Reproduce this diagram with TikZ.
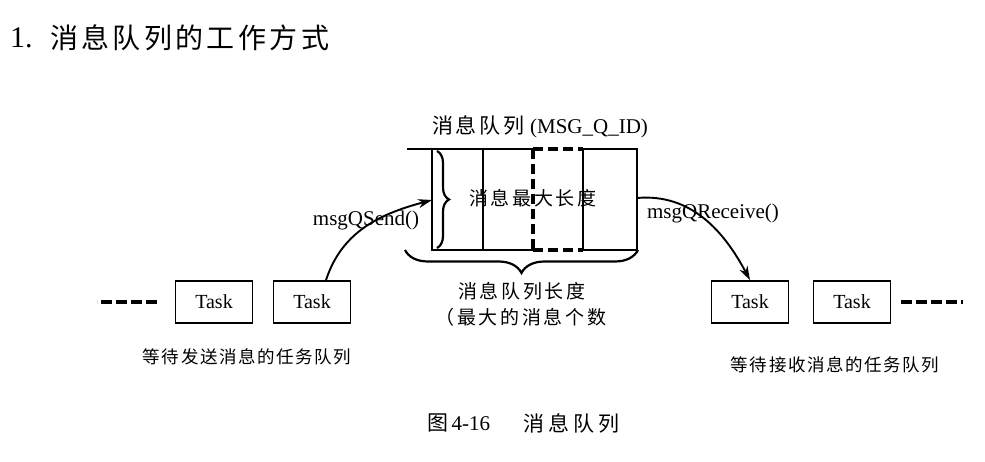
\documentclass[tikz,border=0pt]{standalone}
\usepackage{fontspec}
\setmainfont{Liberation Serif}
\newfontfamily\cjk{Noto Sans CJK SC}
\newfontfamily\cjksp[LetterSpace=14]{Noto Sans CJK SC}
\newfontfamily\cjkwait[LetterSpace=9]{Noto Sans CJK SC}
\newfontfamily\cjkcap[LetterSpace=20]{Noto Sans CJK SC}
\newfontfamily\cjktitle[LetterSpace=12]{Noto Sans CJK SC}
\usetikzlibrary{arrows.meta,decorations.pathreplacing}
\begin{document}
\begin{tikzpicture}[x=1pt,y=-1pt,
  task/.style={draw,line width=1.7pt,minimum width=77pt,minimum height=42pt,inner sep=0pt,font=\fontsize{20}{22}\selectfont},
  qline/.style={line width=2.2pt},
  qdash/.style={line width=3.2pt,dash pattern=on 10pt off 5pt},
  tail/.style={line width=3.2pt,dash pattern=on 11pt off 4pt},
  conn/.style={line width=1.9pt,-{Stealth[length=14pt,width=9pt]}},
  lbl/.style={font=\fontsize{21}{24}\selectfont,inner sep=0pt},
  zh/.style={font=\fontsize{19}{22}\selectfont\cjksp,inner sep=0pt},
  zhwait/.style={font=\fontsize{17.5}{22}\selectfont\cjkwait,inner sep=0pt},
]
\useasboundingbox (0,0) rectangle (985,462);

% title
\node[anchor=west,inner sep=0pt,font=\fontsize{30}{34}\selectfont] (title) at (10,38) {1.};
\node[anchor=west,inner sep=0pt,font=\fontsize{28}{32}\selectfont\cjktitle] (titlezh) at (50,38) {消息队列的工作方式};

% queue
\node[lbl] (qname) at (540,127) {{\cjksp 消息队列} (MSG\_Q\_ID)};
\draw[qline] (407,149) -- (533,149);
\draw[qline] (583,149) -- (637,149) -- (637,250) -- (583,250);
\draw[qline] (432,149) -- (432,250) -- (533,250);
\draw[qline] (483,149) -- (483,250);
\draw[qline] (583,149) -- (583,250);
\draw[qdash] (533,149) -- (583,149);
\draw[qdash] (533,250) -- (583,250);
\draw[qdash] (533,149) -- (533,250);
\draw[qline,decorate,decoration={brace,amplitude=12pt}] (437,151) -- (437,248);
\node[zh] (qmax) at (533,198) {消息最大长度};
\draw[qline,decorate,decoration={brace,amplitude=23pt}] (638,250) -- (405,250);
\node[zh] (qlen) at (522,291) {消息队列长度};
\node[zh] (qcnt) at (521,317) {（最大的消息个数};
\coordinate (qin) at (432,200);
\coordinate (qout) at (637,198);

% tasks
\node[task] (t1) at (214,302) {Task};
\node[task] (t2) at (312,302) {Task};
\node[task] (t3) at (750,302) {Task};
\node[task] (t4) at (852,302) {Task};
\draw[tail] ([xshift=-18pt]t1.west) -- ++(-60,0);
\draw[tail] ([xshift=10pt]t4.east) -- ++(62,0);
\node[zhwait] (lsend) at (247,357) {等待发送消息的任务队列};
\node[zhwait] (lrecv) at (835,365) {等待接收消息的任务队列};

% connectors
\draw[conn] ([xshift=14pt]t2.north) to[out=72,in=195] (qin);
\node[lbl] (send) at (366,220) {msgQSend()};
\draw[conn] (qout) to[out=5,in=118] (t3.north);
\node[lbl] (recv) at (713,213) {msgQReceive()};

% caption
\node[anchor=west,inner sep=0pt,font=\fontsize{21}{24}\selectfont] (cap1) at (427,423) {{\cjk 图}\,4-16};
\node[anchor=west,inner sep=0pt,font=\fontsize{21}{24}\selectfont\cjkcap] (cap2) at (523,423) {消息队列};
\end{tikzpicture}
\end{document}
